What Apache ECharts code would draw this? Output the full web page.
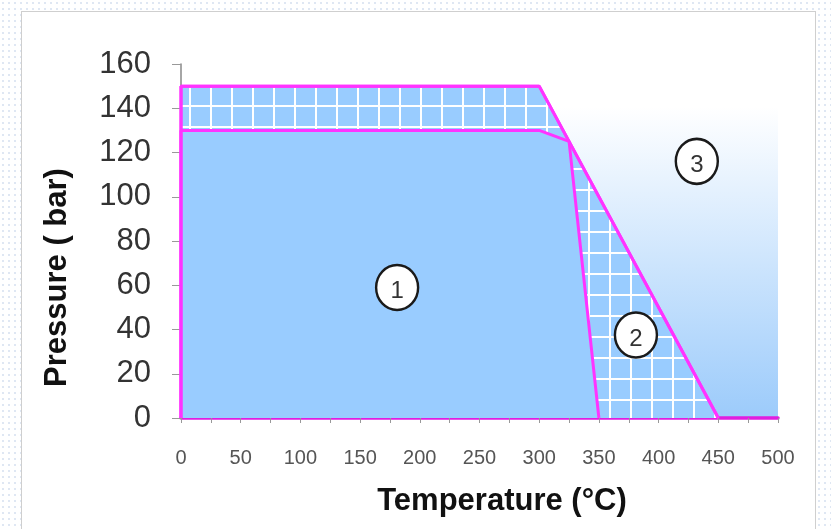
<!DOCTYPE html>
<html>
<head>
<meta charset="utf-8">
<script src="https://cdn.jsdelivr.net/npm/echarts@6/dist/echarts.min.js"></script>
<style>
html,body{margin:0;padding:0;width:831px;height:529px;overflow:hidden;
background-color:#ffffff;
background-image:radial-gradient(circle,#dfe7f3 0.8px,transparent 1.2px);
background-size:6px 6px;}
#frame{position:absolute;left:21px;top:11px;width:795px;height:530px;background:#fff;border:1px solid #cfcfcf;box-sizing:border-box;}
#chart{position:absolute;left:0;top:0;width:831px;height:529px;}
</style>
</head>
<body>
<div id="frame"></div>
<div id="chart"></div>
<script>
// ---- data ----
const xTicks = [0, 50, 100, 150, 200, 250, 300, 350, 400, 450, 500];
const yTicks = [0, 20, 40, 60, 80, 100, 120, 140, 160];
// outer limit (region 1 + 2)
const outerX = [0, 0, 300, 450];
const outerY = [0, 150, 150, 0];
// inner limit (region 1)
const innerX = [0, 0, 300, 325, 350];
const innerY = [0, 130, 130, 125, 0];
// region labels
const regionNames = ['1', '2', '3'];
const regionX = [181, 381, 432];
const regionY = [59, 37.5, 116];

const chart = echarts.init(document.getElementById('chart'), null, {renderer: 'canvas'});

// hatch pattern
const pc = document.createElement('canvas');
pc.width = 21; pc.height = 21;
const g = pc.getContext('2d');
g.fillStyle = '#99ccff';
g.fillRect(0, 0, 21, 21);
g.fillStyle = '#ffffff';
g.fillRect(0, 0, 21, 2);
g.fillRect(0, 0, 2, 21);

const zip = (xs, ys) => xs.map((x, i) => [x, ys[i]]);
const lineColor = '#ff33ff';

chart.setOption({
  backgroundColor: 'transparent',
  animation: false,
  grid: {
    left: 181, right: 53, top: 64, bottom: 111,
    show: true,
    borderWidth: 0,
    backgroundColor: {
      type: 'linear', x: 0, y: 0, x2: 0, y2: 1,
      colorStops: [
        {offset: 0, color: '#ffffff'},
        {offset: 0.12, color: '#ffffff'},
        {offset: 1, color: '#9ccbfb'}
      ]
    }
  },
  xAxis: {
    type: 'value', min: 0, max: 500, interval: 25,
    name: 'Temperature (°C)', nameLocation: 'middle', nameGap: 68,
    nameTextStyle: {fontFamily: 'Liberation Sans, Arial, sans-serif', fontSize: 31, fontWeight: 'bold', color: '#111', padding: [0, 0, 0, 45]},
    axisLine: {show: true, lineStyle: {color: '#e01ee0', width: 3.5}},
    axisTick: {show: true, length: 5, lineStyle: {color: '#999', width: 1}},
    axisLabel: {
      margin: 30, fontSize: 20, color: '#555', fontFamily: 'Liberation Sans, Arial, sans-serif',
      formatter: v => (xTicks.indexOf(v) >= 0 ? String(v) : '')
    },
    splitLine: {show: false}
  },
  yAxis: {
    type: 'value', min: 0, max: 160, interval: 20,
    name: 'Pressure ( bar)', nameLocation: 'middle', nameGap: 108,
    nameTextStyle: {fontFamily: 'Liberation Sans, Arial, sans-serif', fontSize: 31, fontWeight: 'bold', color: '#111', padding: [0, 73, 0, 0]},
    axisLine: {show: true, lineStyle: {color: '#888', width: 1.5}},
    axisTick: {show: true, length: 9, lineStyle: {color: '#999', width: 1}},
    axisLabel: {
      margin: 30, fontSize: 31, color: '#333', fontFamily: 'Liberation Sans, Arial, sans-serif',
      formatter: v => (yTicks.indexOf(v) >= 0 ? String(v) : '')
    },
    splitLine: {show: false}
  },
  series: [
    {
      type: 'line', data: zip(outerX, outerY), symbol: 'none', z: 2,
      lineStyle: {color: lineColor, width: 3},
      areaStyle: {color: {image: pc, repeat: 'repeat'}, opacity: 1}
    },
    {
      type: 'line', data: zip(innerX, innerY), symbol: 'none', z: 3,
      lineStyle: {color: lineColor, width: 3},
      areaStyle: {color: '#99ccff', opacity: 1}
    },
    {
      type: 'line', data: zip(outerX, outerY), symbol: 'none', z: 4,
      lineStyle: {color: lineColor, width: 3}
    },
    {
      type: 'scatter', z: 5,
      data: regionNames.map((n, i) => ({value: [regionX[i], regionY[i]], name: n})),
      symbol: 'circle', symbolSize: [42, 45],
      itemStyle: {color: '#ffffff', borderColor: '#1a1a1a', borderWidth: 2.5, opacity: 1},
      label: {show: true, position: 'inside', formatter: p => p.name, fontSize: 24, color: '#333', fontFamily: 'Liberation Sans, Arial, sans-serif', offset: [0, 4]}
    }
  ]
});
</script>
</body>
</html>
